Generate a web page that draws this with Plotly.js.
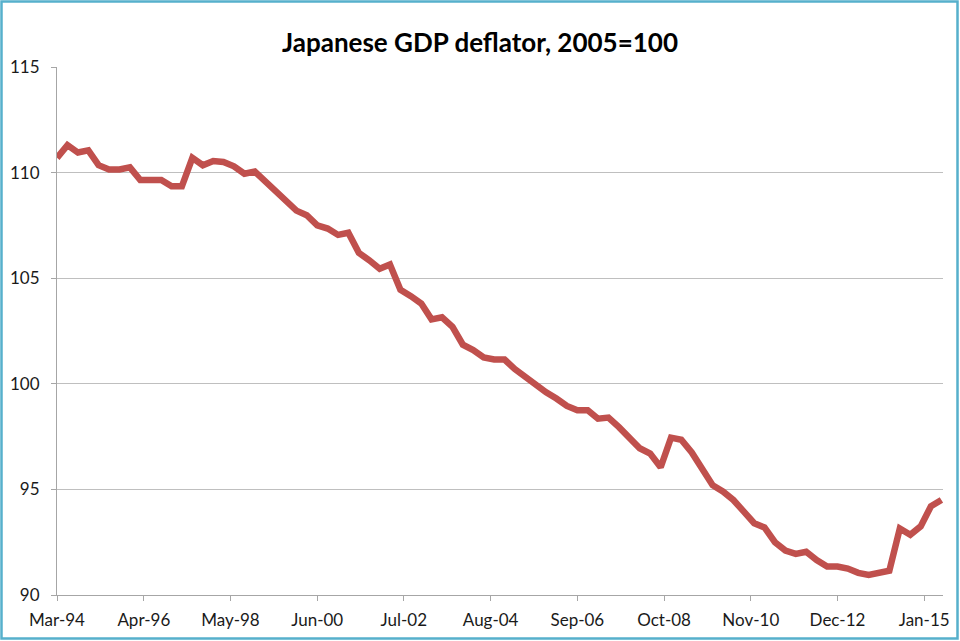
<!DOCTYPE html>
<html>
<head>
<meta charset="utf-8">
<script src="https://cdn.plot.ly/plotly-3.0.1.min.js"></script>
<style>
  html, body { margin: 0; padding: 0; background: #ffffff; }
  #chart { width: 960px; height: 641px; }
</style>
</head>
<body>
<div id="chart"></div>
<script>
// Quarterly observation dates (Mar-94 to Jun-15)
var quarters = [
  '1994-03-01','1994-06-01','1994-09-01','1994-12-01',
  '1995-03-01','1995-06-01','1995-09-01','1995-12-01',
  '1996-03-01','1996-06-01','1996-09-01','1996-12-01',
  '1997-03-01','1997-06-01','1997-09-01','1997-12-01',
  '1998-03-01','1998-06-01','1998-09-01','1998-12-01',
  '1999-03-01','1999-06-01','1999-09-01','1999-12-01',
  '2000-03-01','2000-06-01','2000-09-01','2000-12-01',
  '2001-03-01','2001-06-01','2001-09-01','2001-12-01',
  '2002-03-01','2002-06-01','2002-09-01','2002-12-01',
  '2003-03-01','2003-06-01','2003-09-01','2003-12-01',
  '2004-03-01','2004-06-01','2004-09-01','2004-12-01',
  '2005-03-01','2005-06-01','2005-09-01','2005-12-01',
  '2006-03-01','2006-06-01','2006-09-01','2006-12-01',
  '2007-03-01','2007-06-01','2007-09-01','2007-12-01',
  '2008-03-01','2008-06-01','2008-09-01','2008-12-01',
  '2009-03-01','2009-06-01','2009-09-01','2009-12-01',
  '2010-03-01','2010-06-01','2010-09-01','2010-12-01',
  '2011-03-01','2011-06-01','2011-09-01','2011-12-01',
  '2012-03-01','2012-06-01','2012-09-01','2012-12-01',
  '2013-03-01','2013-06-01','2013-09-01','2013-12-01',
  '2014-03-01','2014-06-01','2014-09-01','2014-12-01',
  '2015-03-01','2015-06-01'
];

// GDP deflator (2005=100)
var deflator = [
  110.7, 111.3, 110.95, 111.05,
  110.35, 110.15, 110.15, 110.25,
  109.65, 109.65, 109.65, 109.35,
  109.35, 110.7, 110.35, 110.55,
  110.5, 110.3, 109.95, 110.05,
  109.6, 109.15, 108.6, 108.2,
  107.98, 107.5, 107.35, 107.05,
  107.15, 106.2, 105.85, 105.45,
  105.65, 104.45, 104.15, 103.8,
  103.05, 103.15, 102.7, 101.85,
  101.6, 101.25, 101.15, 101.15,
  100.7, 100.3, 99.9, 99.6,
  99.3, 98.95, 98.75, 98.75,
  98.35, 98.4, 97.95, 97.4,
  96.95, 96.7, 96.05, 97.45,
  97.35, 96.75, 96.0, 95.2,
  94.9, 94.5, 93.95, 93.4,
  93.2, 92.5, 92.1, 91.95,
  92.05, 91.65, 91.35, 91.35,
  91.25, 91.05, 90.95, 91.05,
  91.15, 93.15, 92.85, 93.25,
  94.2, 94.5
];

// x-axis tick labels
var xTickVals = ['1994-03-01','1996-04-01','1998-05-01','2000-06-01','2002-07-01','2004-08-01',
                 '2006-09-01','2008-10-01','2010-11-01','2012-12-01','2015-01-01'];
var xTickText = ['Mar-94','Apr-96','May-98','Jun-00','Jul-02','Aug-04',
                 'Sep-06','Oct-08','Nov-10','Dec-12','Jan-15'];
var yTickVals = [90, 95, 100, 105, 110, 115];

var trace = {
  x: quarters,
  y: deflator,
  type: 'scatter',
  mode: 'lines',
  line: { color: '#c0504d', width: 6.5, shape: 'linear' },
  hoverinfo: 'x+y',
  showlegend: false
};

var FONT = 'Lato, Calibri, Carlito, "Open Sans", sans-serif';

var layout = {
  width: 960,
  height: 641,
  margin: { l: 57, r: 17, t: 67, b: 46, pad: 0 },
  paper_bgcolor: '#ffffff',
  plot_bgcolor: '#ffffff',
  font: { family: FONT, size: 17, color: '#1a1a1a' },
  title: {
    text: '<b>Japanese GDP deflator, 2005=100</b>',
    font: { family: FONT, size: 26, color: '#000000' },
    x: 0.5, xanchor: 'center', xref: 'container',
    y: 1 - 43 / 641, yanchor: 'middle', yref: 'container'
  },
  xaxis: {
    type: 'date',
    range: ['1994-03-01', '2015-06-15'],
    tickmode: 'array',
    tickvals: xTickVals,
    ticktext: xTickText,
    ticks: 'outside',
    ticklen: 5,
    tickcolor: '#a6a6a6',
    tickwidth: 1,
    ticklabelstandoff: 5,
    showgrid: false,
    showline: true,
    linecolor: '#a6a6a6',
    linewidth: 1,
    zeroline: false,
    tickfont: { family: FONT, size: 17, color: '#1a1a1a' }
  },
  yaxis: {
    range: [90, 115],
    tickmode: 'array',
    tickvals: yTickVals,
    ticks: 'outside',
    ticklen: 5,
    tickcolor: '#a6a6a6',
    tickwidth: 1,
    ticklabelstandoff: 8,
    showgrid: true,
    gridcolor: '#bfbfbf',
    gridwidth: 1,
    showline: true,
    linecolor: '#a6a6a6',
    linewidth: 1,
    zeroline: false,
    tickfont: { family: FONT, size: 17, color: '#1a1a1a' }
  },
  shapes: [{
    type: 'rect',
    xref: 'paper', yref: 'paper',
    x0: (1.5 - 57) / 886, x1: (957.5 - 57) / 886,
    y0: (595 - 638.5) / 528, y1: (595 - 1.5) / 528,
    line: { color: '#56b0cc', width: 2.5 },
    fillcolor: 'rgba(0,0,0,0)',
    layer: 'above'
  }]
};

Plotly.newPlot('chart', [trace], layout, { displayModeBar: false, staticPlot: true });
</script>
</body>
</html>
